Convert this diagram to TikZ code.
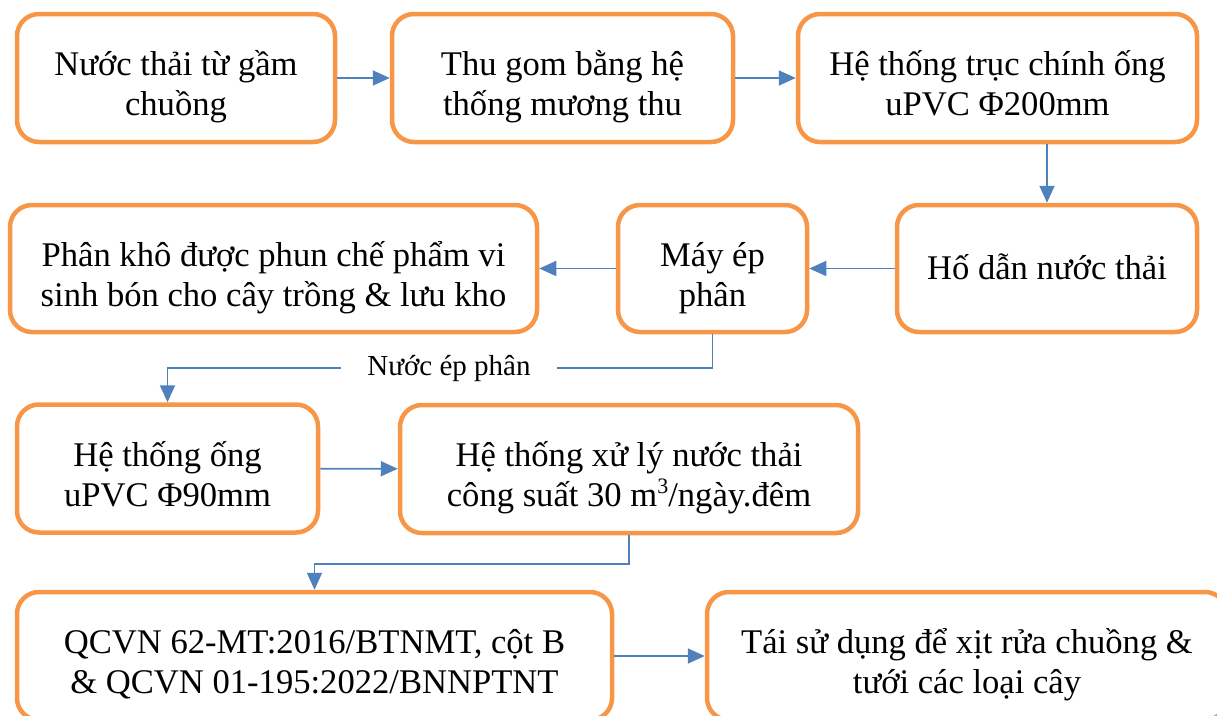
\documentclass[tikz,border=0pt]{standalone}
\usepackage{fontspec}
\setmainfont{Liberation Serif}
\usetikzlibrary{arrows.meta}
\definecolor{boxorange}{HTML}{F79646}
\definecolor{flowblue}{HTML}{4F81BD}
\newcommand{\cubed}{\raisebox{13pt}{\fontsize{22}{22}\selectfont 3}}

\begin{document}
\begin{tikzpicture}[x=1pt,y=-1pt,
        box/.style={draw=boxorange,line width=4.5pt,rounded corners=22pt,
          align=center,inner sep=0pt,font=\fontsize{34.6}{40}\selectfont},
        tworow/.style={box,execute at begin node={\rule[-15pt]{0pt}{105pt}}},
        onerow/.style={box,execute at begin node={\rule[-18pt]{0pt}{58pt}}},
        flow/.style={draw=flowblue,line width=1.8pt,
          -{Triangle[length=17pt,width=15pt]}},
        link/.style={draw=flowblue,line width=1.8pt}]
        \clip (0,0) rectangle (1217,715) ;
        %\draw[very thin,gray,step=50] (0,0) grid (1217,715) ;
        % row 1
        \node[tworow,minimum width=318,minimum height=128] (gam) at (176,78)
        {Nước thải từ gầm\\chuồng} ;
        \node[tworow,minimum width=341,minimum height=128] (muong) at (562.5,78)
        {Thu gom bằng hệ\\thống mương thu} ;
        \node[tworow,minimum width=399,minimum height=128] (truc) at (997.5,78)
        {Hệ thống trục chính ống\\uPVC Φ200mm} ;
        % row 2
        \node[onerow,minimum width=300,minimum height=127] (ho) at (1047,268.5)
        {Hố dẫn nước thải} ;
        \node[tworow,minimum width=189,minimum height=127] (may) at (712.5,268.5)
        {Máy ép\\phân} ;
        \node[tworow,minimum width=527,minimum height=127] (phan) at (273.5,268.5)
        {Phân khô được phun chế phẩm vi\\sinh bón cho cây trồng \& lưu kho} ;
        \node[inner sep=0pt,minimum width=215,font=\fontsize{29}{34}\selectfont]
        (nuocep) at (449,368) {Nước ép phân} ;
        % row 3
        \node[tworow,minimum width=301,minimum height=128] (ong) at (167.5,468.5)
        {Hệ thống ống\\uPVC Φ90mm} ;
        \node[tworow,minimum width=458,minimum height=128] (xuly) at (629,469)
        {Hệ thống xử lý nước thải\\công suất 30 m\cubed/ngày.đêm} ;
        % row 4 (cut by the page edge)
        \node[tworow,minimum width=595,minimum height=128] (qcvn) at (314.5,656)
        {QCVN 62-MT:2016/BTNMT, cột B\\\& QCVN 01-195:2022/BNNPTNT} ;
        \node[tworow,minimum width=520,minimum height=128] (taisd) at (967,656)
        {Tái sử dụng để xịt rửa chuồng \&\\tưới các loại cây} ;
        % arrows
        \draw[flow] (gam) -- (muong) ;
        \draw[flow] (muong) -- (truc) ;
        \draw[flow] (truc.south -| ho.north) -- (ho.north) ;
        \draw[flow] (ho) -- (may) ;
        \draw[flow] (may) -- (phan) ;
        \draw[link] (may.south) |- (nuocep.east) ;
        \draw[flow] (nuocep.west) -| (ong.north) ;
        \draw[flow] (ong) -- (xuly) ;
        \draw[flow] (xuly.south) -- ++(0,29) -| (qcvn.north) ;
        \draw[flow] (qcvn) -- (taisd) ;
      \end{tikzpicture}
\end{document}
